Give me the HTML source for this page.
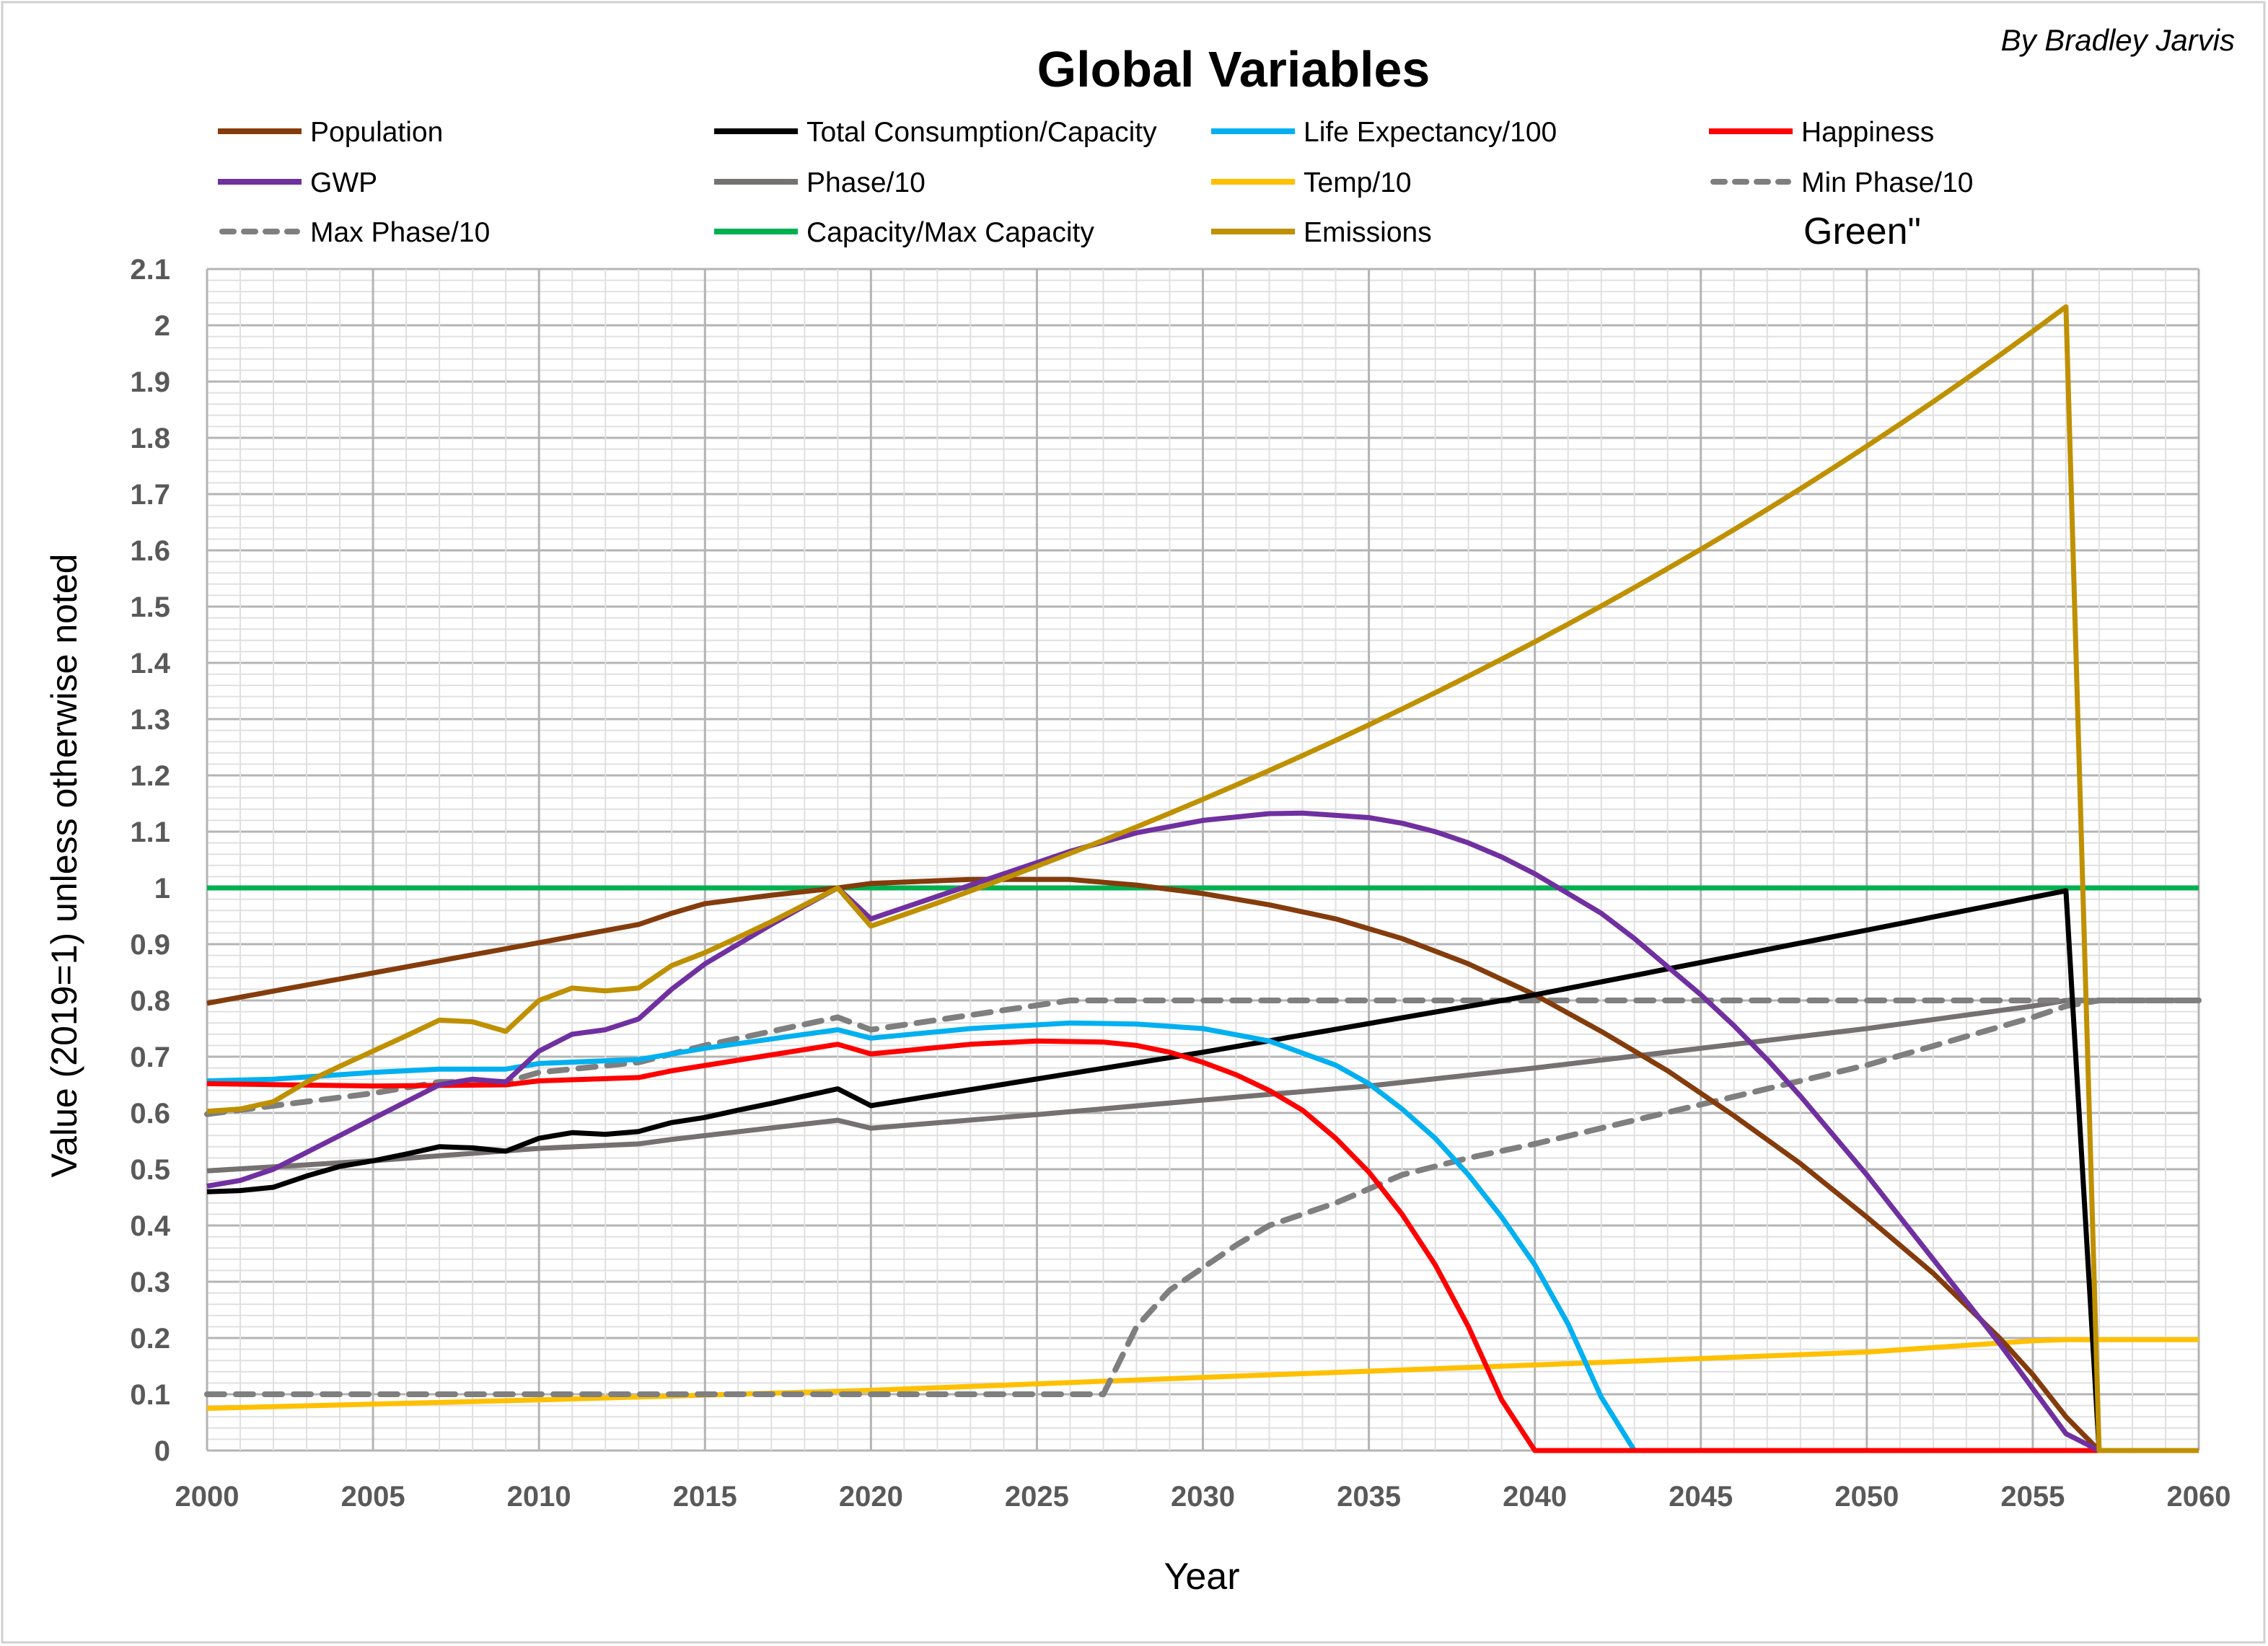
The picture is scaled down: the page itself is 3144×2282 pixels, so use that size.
<!DOCTYPE html>
<html><head><meta charset="utf-8"><style>
html,body{margin:0;padding:0;background:#fff}
svg{display:block}
text{font-family:"Liberation Sans",sans-serif}
</style></head><body>
<svg id="c" width="3144" height="2282" viewBox="0 0 3144 2282" xmlns="http://www.w3.org/2000/svg">
<rect x="3" y="3" width="3136" height="2274" fill="#fff" stroke="#d0d0d0" stroke-width="3"/>
<g id="grid"></g>
<g id="series"></g>
<text x="1710" y="120" text-anchor="middle" font-size="70" font-weight="bold" fill="#000">Global Variables</text>
<text x="3098" y="70" text-anchor="end" font-size="42" font-style="italic" fill="#000">By Bradley Jarvis</text>
<g id="legend" font-size="39" fill="#000"></g>
<text x="2500" y="338" font-size="52" fill="#000">Green"</text>
<g id="ticks" font-size="40" font-weight="bold" fill="#595959"></g>
<text x="1666" y="2203" text-anchor="middle" font-size="52" fill="#000">Year</text>
<text transform="translate(106,1200) rotate(-90)" text-anchor="middle" font-size="50" fill="#000">Value (2019=1) unless otherwise noted</text>
</svg>
<script>
const NS="http://www.w3.org/2000/svg";
const X0=287,X1=3048,Y0=2011,Y1=373;
const px=y=>X0+(y-2000)*(X1-X0)/60, py=v=>Y0-v*(Y0-Y1)/2.1;
function el(p,tag,a){const e=document.createElementNS(NS,tag);for(const k in a)e.setAttribute(k,a[k]);p.appendChild(e);return e;}
const g=document.getElementById('grid');
for(let i=0;i<=105;i++){const v=i*0.02,y=py(v);const major=i%5==0;
 el(g,'line',{x1:X0,x2:X1,y1:y,y2:y,stroke:major?'#b4b4b4':'#e0e0e0','stroke-width':major?3:2});}
for(let i=0;i<=60;i++){const x=px(2000+i);const major=i%5==0;
 el(g,'line',{x1:x,x2:x,y1:Y1,y2:Y0,stroke:major?'#b4b4b4':'#e0e0e0','stroke-width':major?3:2});}
const t=document.getElementById('ticks');
for(let i=0;i<=21;i++){const v=i/10;let s=(Math.round(v*10)/10).toString();
 el(t,'text',{x:236,y:py(v)+14,'text-anchor':'end'}).textContent=s;}
for(let y=2000;y<=2060;y+=5){el(t,'text',{x:px(y),y:2088,'text-anchor':'middle'}).textContent=y;}
const emis=[[2000,.603],[2001,.607],[2002,.62],[2003,.655],[2004,.683],[2005,.71],[2006,.737],[2007,.765],[2008,.762],[2009,.745],[2010,.8],[2011,.822],[2012,.817],[2013,.822],[2014,.862],[2015,.885],[2016,.912],[2017,.94],[2018,.97],[2019,1.0],[2020,.932]];
for(let y=2021;y<=2056;y++)emis.push([y,.932*Math.pow(1.0219,y-2020)]);
emis.push([2057,0],[2060,0]);
const cons=[[2000,.46],[2001,.462],[2002,.468],[2003,.488],[2004,.505],[2005,.515],[2006,.527],[2007,.54],[2008,.538],[2009,.532],[2010,.555],[2011,.565],[2012,.562],[2013,.567],[2014,.583],[2015,.592],[2016,.605],[2017,.617],[2018,.63],[2019,.643],[2020,.613],[2030,.708],[2040,.81],[2050,.925],[2056,.995],[2057,0],[2060,0]];
const data={
cap:{c:'#00B050',p:[[2000,1],[2060,1]]},
temp:{c:'#FFC000',p:[[2000,.075],[2010,.09],[2020,.107],[2030,.13],[2040,.152],[2050,.175],[2055,.195],[2056,.197],[2060,.197]]},
phase:{c:'#767171',p:[[2000,.497],[2005,.515],[2010,.537],[2013,.545],[2014,.553],[2019,.587],[2020,.573],[2025,.597],[2030,.623],[2035,.648],[2040,.68],[2045,.715],[2050,.75],[2055,.79],[2056,.8],[2060,.8]]},
minp:{c:'#7F7F7F',d:1,p:[[2000,.1],[2027,.1],[2028,.22],[2029,.285],[2030,.325],[2031,.365],[2032,.4],[2034,.44],[2036,.49],[2038,.52],[2040,.545],[2045,.615],[2050,.685],[2055,.77],[2056,.79],[2057,.8],[2060,.8]]},
maxp:{c:'#7F7F7F',d:1,p:[[2000,.598],[2005,.635],[2007,.655],[2009,.655],[2010,.672],[2013,.69],[2015,.72],[2019,.77],[2020,.748],[2026,.8],[2060,.8]]},
pop:{c:'#843C0C',p:[[2000,.795],[2013,.935],[2014,.955],[2015,.972],[2017,.987],[2019,1.0],[2020,1.008],[2023,1.015],[2026,1.015],[2028,1.005],[2030,.99],[2032,.97],[2034,.945],[2036,.91],[2038,.865],[2040,.81],[2042,.745],[2044,.675],[2046,.595],[2048,.51],[2050,.415],[2052,.315],[2054,.2],[2055,.135],[2056,.06],[2057,0],[2060,0]]},
cons:{c:'#000000',p:cons},
life:{c:'#00B0F0',p:[[2000,.657],[2002,.66],[2005,.672],[2007,.678],[2009,.678],[2010,.688],[2013,.695],[2015,.715],[2019,.748],[2020,.733],[2023,.75],[2026,.76],[2028,.758],[2030,.75],[2032,.728],[2034,.685],[2035,.652],[2036,.607],[2037,.555],[2038,.49],[2039,.415],[2040,.33],[2041,.225],[2042,.095],[2043,0],[2060,0]]},
happy:{c:'#FF0000',p:[[2000,.652],[2005,.648],[2009,.65],[2010,.657],[2013,.663],[2014,.675],[2019,.722],[2020,.705],[2023,.722],[2025,.728],[2027,.726],[2028,.72],[2029,.708],[2030,.69],[2031,.668],[2032,.64],[2033,.605],[2034,.555],[2035,.495],[2036,.42],[2037,.33],[2038,.22],[2039,.09],[2040,0],[2060,0]]},
gwp:{c:'#7030A0',p:[[2000,.47],[2001,.48],[2002,.5],[2003,.53],[2004,.56],[2005,.59],[2006,.62],[2007,.65],[2008,.66],[2009,.655],[2010,.71],[2011,.74],[2012,.748],[2013,.767],[2014,.82],[2015,.865],[2016,.9],[2017,.935],[2018,.968],[2019,1.0],[2020,.945],[2022,.985],[2024,1.025],[2026,1.065],[2028,1.098],[2030,1.12],[2032,1.132],[2033,1.133],[2035,1.125],[2036,1.115],[2037,1.1],[2038,1.08],[2039,1.055],[2040,1.025],[2041,.99],[2042,.955],[2043,.91],[2044,.86],[2045,.81],[2046,.755],[2047,.695],[2048,.63],[2049,.56],[2050,.49],[2051,.415],[2052,.34],[2053,.265],[2054,.19],[2055,.11],[2056,.03],[2057,0],[2060,0]]},
emis:{c:'#BF9000',p:emis}
};
const sg=document.getElementById('series');
['cap','temp','phase','minp','maxp','pop','cons','life','happy','gwp','emis'].forEach(k=>{const s=data[k];
 const a={points:s.p.map(q=>px(q[0]).toFixed(1)+','+py(q[1]).toFixed(1)).join(' '),fill:'none',stroke:s.c,'stroke-width':7,'stroke-linejoin':'round'};
 if(s.d){a['stroke-dasharray']='24 16';a['stroke-linecap']='round';a['stroke-width']=8;}
 el(sg,'polyline',a);});
const L=document.getElementById('legend');
const leg=[['Population','#843C0C'],['Total Consumption/Capacity','#000000'],['Life Expectancy/100','#00B0F0'],['Happiness','#FF0000'],
['GWP','#7030A0'],['Phase/10','#767171'],['Temp/10','#FFC000'],['Min Phase/10','#7F7F7F',1],
['Max Phase/10','#7F7F7F',1],['Capacity/Max Capacity','#00B050'],['Emissions','#BF9000']];
const cx=[300,988,1677,2367],ry=[182,252,321];
leg.forEach((l,i)=>{const x=cx[i%4],y=ry[Math.floor(i/4)];
 const a={x1:x+2,x2:x+118,y1:y,y2:y,stroke:l[1],'stroke-width':8};
 if(l[2]){a['stroke-dasharray']='16 14';a['stroke-linecap']='round';a.x1=x+8;a.x2=x+112;}
 el(L,'line',a);
 el(L,'text',{x:x+130,y:y+14}).textContent=l[0];});
</script>
</body></html>
